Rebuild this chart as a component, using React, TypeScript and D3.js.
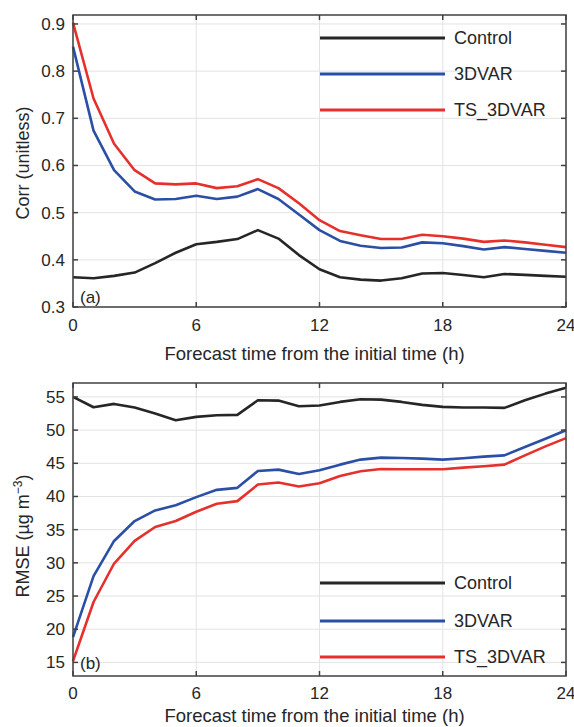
import React from "react";
import * as d3 from "d3";

const hours = d3.range(0, 25);
const xTicks = [0, 6, 12, 18, 24];

const corrControl = [0.363, 0.361, 0.366, 0.373, 0.393, 0.415, 0.433, 0.438, 0.444, 0.463, 0.445, 0.41, 0.38, 0.363, 0.358, 0.356, 0.361, 0.371, 0.372, 0.368, 0.363, 0.37, 0.368, 0.366, 0.364];
const corr3DVAR = [0.852, 0.674, 0.59, 0.545, 0.528, 0.529, 0.536, 0.529, 0.534, 0.55, 0.529, 0.496, 0.463, 0.44, 0.43, 0.425, 0.426, 0.437, 0.435, 0.429, 0.422, 0.427, 0.423, 0.419, 0.415];
const corrTS3DVAR = [0.903, 0.742, 0.646, 0.59, 0.562, 0.56, 0.562, 0.552, 0.556, 0.571, 0.552, 0.52, 0.484, 0.461, 0.452, 0.444, 0.444, 0.453, 0.45, 0.445, 0.438, 0.441, 0.437, 0.432, 0.427];
const corrTicks = [0.3, 0.4, 0.5, 0.6, 0.7, 0.8, 0.9];

const rmseControl = [55.0, 53.45, 53.95, 53.4, 52.5, 51.5, 52.0, 52.25, 52.3, 54.5, 54.45, 53.6, 53.7, 54.25, 54.65, 54.6, 54.25, 53.8, 53.5, 53.4, 53.4, 53.35, 54.5, 55.5, 56.4];
const rmse3DVAR = [18.8, 28.0, 33.3, 36.3, 37.9, 38.67, 39.9, 41.0, 41.3, 43.85, 44.05, 43.4, 43.95, 44.8, 45.56, 45.86, 45.8, 45.7, 45.56, 45.76, 46.0, 46.2, 47.46, 48.7, 49.98];
const rmseTS3DVAR = [15.2, 24.1, 29.9, 33.3, 35.4, 36.3, 37.7, 38.9, 39.3, 41.8, 42.1, 41.5, 42.0, 43.1, 43.8, 44.15, 44.1, 44.1, 44.1, 44.35, 44.55, 44.8, 46.2, 47.55, 48.8];
const rmseTicks = [15, 20, 25, 30, 35, 40, 45, 50, 55];

const seriesNames = ["Control", "3DVAR", "TS_3DVAR"];
const colors = ["#262626", "#2a4fa5", "#e5302c"];

const FONT = "'Liberation Sans', Arial, sans-serif";
const AXIS = "#404040";
const GRID = "#e3e3e3";
const TXT = "#262626";

type PanelProps = {
  top: number;
  bottom: number;
  yDomain: [number, number];
  yTicks: number[];
  yFmt: (v: number) => string;
  series: number[][];
  label: string;
  labelOffset: number;
  tickOffset: number;
  yLabel: React.ReactNode;
  yLabelY: number;
  legendY: number[];
  tag: string;
  tagY: number;
};

const left = 73;
const right = 566;

function Panel(p: PanelProps) {
  const x = d3.scaleLinear().domain([0, 24]).range([left, right]);
  const y = d3.scaleLinear().domain(p.yDomain).range([p.bottom, p.top]);
  const line = d3
    .line<number>()
    .x((_, i) => x(hours[i]))
    .y((d) => y(d));
  const tl = 5;
  return (
    <g>
      {xTicks.map((t) => (
        <line key={"gx" + t} x1={x(t)} x2={x(t)} y1={p.top} y2={p.bottom} stroke={GRID} strokeWidth={1} />
      ))}
      {p.yTicks.map((t) => (
        <line key={"gy" + t} x1={left} x2={right} y1={y(t)} y2={y(t)} stroke={GRID} strokeWidth={1} />
      ))}
      {p.series.map((s, i) => (
        <path key={"s" + i} d={line(s) || ""} fill="none" stroke={colors[i]} strokeWidth={2.6} strokeLinejoin="round" />
      ))}
      {seriesNames.map((n, i) => (
        <g key={"lg" + i}>
          <line x1={320} x2={445} y1={p.legendY[i]} y2={p.legendY[i]} stroke={colors[i]} strokeWidth={3} />
          <text x={454} y={p.legendY[i]} dy="0.35em" fontSize={18} fontFamily={FONT} fill={TXT}>
            {n}
          </text>
        </g>
      ))}
      <rect x={left} y={p.top} width={right - left} height={p.bottom - p.top} fill="none" stroke={AXIS} strokeWidth={1.5} />
      {xTicks.map((t) => (
        <g key={"tx" + t}>
          <line x1={x(t)} x2={x(t)} y1={p.bottom} y2={p.bottom - tl} stroke={AXIS} strokeWidth={1.5} />
          <line x1={x(t)} x2={x(t)} y1={p.top} y2={p.top + tl} stroke={AXIS} strokeWidth={1.5} />
          <text x={x(t)} y={p.bottom + p.tickOffset} fontSize={17} fontFamily={FONT} fill={TXT} textAnchor="middle">
            {t}
          </text>
        </g>
      ))}
      {p.yTicks.map((t) => (
        <g key={"ty" + t}>
          <line x1={left} x2={left + tl} y1={y(t)} y2={y(t)} stroke={AXIS} strokeWidth={1.5} />
          <line x1={right} x2={right - tl} y1={y(t)} y2={y(t)} stroke={AXIS} strokeWidth={1.5} />
          <text x={left - 8} y={y(t)} dy="0.35em" fontSize={17} fontFamily={FONT} fill={TXT} textAnchor="end">
            {p.yFmt(t)}
          </text>
        </g>
      ))}
      <text x={80} y={p.tagY} dy="0.35em" fontSize={17} fontFamily={FONT} fill={TXT}>
        {p.tag}
      </text>
      <text x={(left + right) / 2 - 5} y={p.bottom + p.labelOffset} fontSize={18.5} fontFamily={FONT} fill={TXT} textAnchor="middle">
        {p.label}
      </text>
      <text
        transform={`translate(29,${p.yLabelY}) rotate(-90)`}
        fontSize={18}
        fontFamily={FONT}
        fill={TXT}
        textAnchor="middle"
      >
        {p.yLabel}
      </text>
    </g>
  );
}

export default function App() {
  return (
    <svg width={574} height={727} style={{ position: "absolute", left: 0, top: 0, background: "#fff" }}>
      <rect width={574} height={727} fill="#fff" />
      <Panel
        top={15}
        bottom={307}
        yDomain={[0.3, 0.919]}
        yTicks={corrTicks}
        yFmt={(v) => v.toFixed(1)}
        series={[corrControl, corr3DVAR, corrTS3DVAR]}
        label="Forecast time from the initial time (h)"
        labelOffset={53}
        tickOffset={24}
        yLabel="Corr (unitless)"
        yLabelY={163}
        legendY={[38, 74, 110]}
        tag="(a)"
        tagY={297}
      />
      <Panel
        top={383}
        bottom={676}
        yDomain={[12.95, 57.1]}
        yTicks={rmseTicks}
        yFmt={(v) => String(v)}
        series={[rmseControl, rmse3DVAR, rmseTS3DVAR]}
        label="Forecast time from the initial time (h)"
        labelOffset={46}
        tickOffset={23}
        yLabel={
          <>
            RMSE (µg m
            <tspan dy={-7} fontSize={12}>
              −3
            </tspan>
            <tspan dy={7}>)</tspan>
          </>
        }
        yLabelY={536}
        legendY={[583, 621, 657]}
        tag="(b)"
        tagY={663}
      />
    </svg>
  );
}
